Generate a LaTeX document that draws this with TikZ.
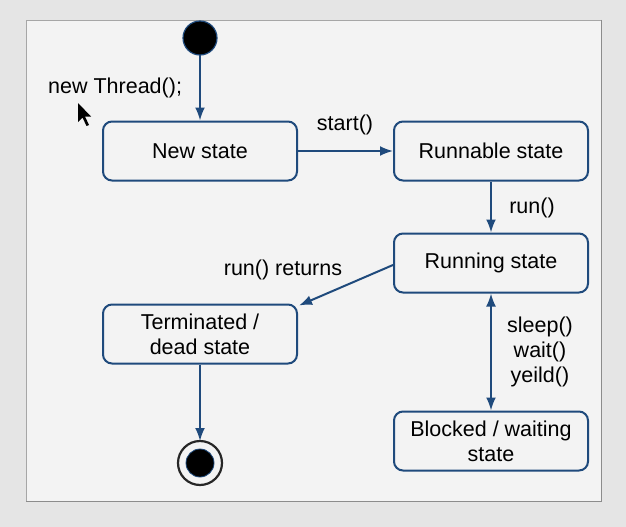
\documentclass[tikz,border=0pt]{standalone}
\usepackage{fontspec}
\setmainfont{Liberation Sans}
\usepackage{tikz}
\usetikzlibrary{arrows.meta}
\usetikzlibrary{calc}
\definecolor{umlblue}{HTML}{1F4A7C}
\definecolor{panelbg}{HTML}{F3F3F3}
\definecolor{pagebg}{HTML}{E5E5E5}
\tikzset{
  statebox/.style={draw=umlblue, line width=2pt, rounded corners=9pt, fill=panelbg,
    minimum width=194pt, minimum height=59pt, align=center, inner sep=0pt,
    font=\fontsize{21.5}{25}\selectfont, text=black},
  lbl/.style={font=\fontsize{21.5}{25}\selectfont, text=black, align=center, inner sep=0pt},
  trans/.style={draw=umlblue, line width=2pt, -{Latex[length=13pt,width=10pt]}},
}
\begin{document}
\begin{tikzpicture}[x=1pt,y=-1pt]
% page and panel
\fill[pagebg] (0,0) rectangle (626,527);
\draw[gray!70, fill=panelbg] (26,20) rectangle (601,501);
\draw[gray!90, line width=1pt] (601,20) -- (601,501) -- (26,501);
\useasboundingbox (0,0) rectangle (626,527);

% start / end points
\draw[umlblue, line width=1.2pt, fill=black] (200,38) circle (17) node (init) {};
\draw[black!85, line width=2.2pt, fill=panelbg] (200,463) circle (22);
\draw[umlblue, line width=0.8pt, fill=black] (200,463) circle (14) node (fin) {};
\coordinate (finTop) at (200,441);
\coordinate (initBot) at (200,55);

% states
\draw(200,151) node[statebox] (new) {New state};
\draw(491,151) node[statebox] (runnable) {Runnable state};
\draw(491,263) node[statebox] (running) {Running state};
\draw(200,334) node[statebox] (term) {Terminated /\\dead state};
\draw(491,441) node[statebox] (blocked) {Blocked / waiting\\state};

% labels
\draw(48,88) node[lbl, anchor=west] (newthr) {new Thread();};
\draw(345,125) node[lbl] (lstart) {start()};
\draw(532,208) node[lbl] (lrun) {run()};
\draw(283,270) node[lbl] (lret) {run() returns};
\draw(540,352) node[lbl] (lsleep) {sleep()\\wait()\\yeild()};

% transitions
\draw[trans] (initBot) -- (new.north);
\draw[trans] (new.east) -- (runnable.west);
\draw[trans] (runnable.south) -- (running.north);
\draw[trans] ($(running.west)+(0,2)$) -- ($(term.north east)+(1,2)$);
\draw[trans, {Latex[length=13pt,width=10pt]}-{Latex[length=13pt,width=10pt]}] (running.south) -- (blocked.north);
\draw[trans] (term.south) -- (finTop);

% mouse pointer
\fill[black] (78,103) -- (78,122) -- (82.5,117.5) -- (86.5,126) -- (89,125) -- (85,116.5) -- (91,116.5) -- cycle;
\end{tikzpicture}
\end{document}
